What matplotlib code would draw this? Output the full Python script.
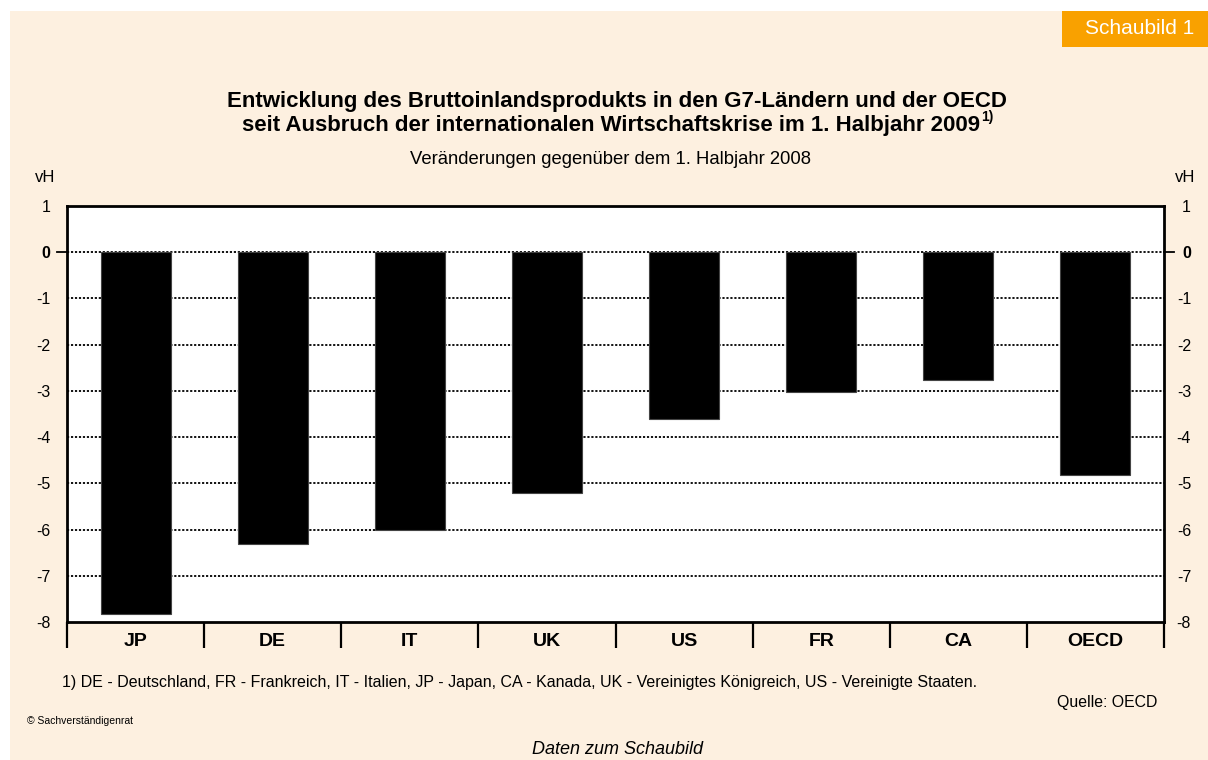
import matplotlib.pyplot as plt
from matplotlib.patches import Rectangle
from matplotlib.transforms import ScaledTranslation

plt.rcParams['font.family'] = ['Liberation Sans', 'DejaVu Sans']

# Data (vH, change vs. 1st half 2008)
countries = ['JP', 'DE', 'IT', 'UK', 'US', 'FR', 'CA', 'OECD']
change = [-7.83, -6.31, -6.01, -5.21, -3.61, -3.03, -2.77, -4.82]
yticks = [1, 0, -1, -2, -3, -4, -5, -6, -7, -8]

beige = '#FDF0E0'
orange = '#F9A100'

fig = plt.figure(figsize=(12.08, 7.6), dpi=100)
fig.patch.set_facecolor('white')
fig.add_artist(Rectangle((10 / 1208, 0), 1, 1 - 11 / 760, transform=fig.transFigure,
                         facecolor=beige, edgecolor='none', zorder=-10))
fig.add_artist(Rectangle((1062 / 1208, 1 - 47 / 760), 146 / 1208, 36 / 760,
                         transform=fig.transFigure, facecolor=orange,
                         edgecolor='none', zorder=-5))
fig.text(1140 / 1208, 1 - 29 / 760, 'Schaubild 1', color='white', fontsize=15,
         ha='center', va='center')

ax = fig.add_axes([67 / 1208, 1 - 622 / 760, 1097 / 1208, 416 / 760])
ax.set_facecolor('white')
x = list(range(len(countries)))
ax.bar(x, change, width=0.51, color='black', edgecolor='#444444', linewidth=0.8, zorder=3)

ax.set_xlim(-0.5, len(countries) - 0.5)
ax.set_ylim(-8, 1)
for v in yticks[1:-1]:
    ax.axhline(v, color='black', linestyle=(0, (1.2, 1.0)), linewidth=1.3, zorder=2)

for s in ax.spines.values():
    s.set_linewidth(2)
    s.set_color('black')

ax.set_yticks(yticks)
ax.set_yticklabels([str(v) for v in yticks])
ax.tick_params(axis='y', length=0, labelsize=11.5, pad=12,
               left=True, right=True, labelleft=True, labelright=True)
# right-hand labels are right-aligned near x=1191 px
off = ScaledTranslation(27 / 100, 0, fig.dpi_scale_trans)
for t in ax.yaxis.get_major_ticks():
    t.label2.set_horizontalalignment('right')
    t.label2.set_transform(ax.get_yaxis_transform('grid') + off)
    if t.label1.get_text() == '0':
        t.label1.set_fontweight('bold')
        t.label2.set_fontweight('bold')

# outward tick at zero on both sides
ax.plot([-0.5 - 0.07, -0.5], [0, 0], color='black', lw=1.3, clip_on=False)
ax.plot([len(countries) - 0.5, len(countries) - 0.5 + 0.07], [0, 0],
        color='black', lw=1.3, clip_on=False)

# category separators below axis
ax.set_xticks([i - 0.5 for i in range(len(countries) + 1)])
ax.set_xticklabels([])
ax.tick_params(axis='x', length=19, width=1.6, direction='out', color='black')
for i, c in enumerate(countries):
    ax.text(i, -19 / 416, c, transform=ax.get_xaxis_transform(), ha='center', va='center',
            fontsize=14, fontweight='bold')

fig.text(45 / 1208, 1 - 177 / 760, 'vH', fontsize=12, ha='center', va='center')
fig.text(1185 / 1208, 1 - 177 / 760, 'vH', fontsize=12, ha='center', va='center')

fig.text(617 / 1208, 1 - 102 / 760,
         'Entwicklung des Bruttoinlandsprodukts in den G7-Ländern und der OECD',
         fontsize=16, fontweight='bold', ha='center', va='center')
t2 = fig.text(611 / 1208, 1 - 126 / 760,
              'seit Ausbruch der internationalen Wirtschaftskrise im 1. Halbjahr 2009',
              fontsize=16, fontweight='bold', ha='center', va='center')
fig.canvas.draw()
bb = t2.get_window_extent()
fig.text((bb.x1 + 1) / fig.bbox.width, (bb.y1 - 9) / fig.bbox.height, '1)',
         fontsize=10, fontweight='bold', ha='left', va='bottom')

fig.text(611 / 1208, 1 - 160 / 760, 'Veränderungen gegenüber dem 1. Halbjahr 2008',
         fontsize=13.3, ha='center', va='center')

fig.text(62 / 1208, 1 - 683 / 760,
         '1) DE - Deutschland, FR - Frankreich, IT - Italien, JP - Japan, CA - Kanada, '
         'UK - Vereinigtes Königreich, US - Vereinigte Staaten.',
         fontsize=11.5, ha='left', va='center')
fig.text(1157 / 1208, 1 - 702 / 760, 'Quelle: OECD', fontsize=11.4, ha='right', va='center')
fig.text(27 / 1208, 1 - 721 / 760, '© Sachverständigenrat', fontsize=7.5,
         ha='left', va='center')
fig.text(618 / 1208, 1 - 750 / 760, 'Daten zum Schaubild', fontsize=13,
         style='italic', ha='center', va='center')

fig.savefig('out.png', dpi=100, facecolor=fig.get_facecolor())
